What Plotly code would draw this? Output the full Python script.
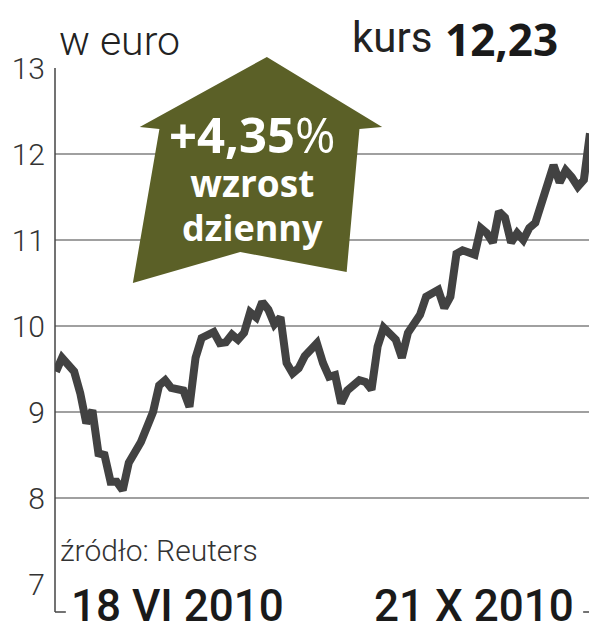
import plotly.graph_objects as go

# ---- data ----
day_index = [0, 1, 3, 4, 5, 6, 7, 8, 9, 10, 11, 12, 14, 15, 16, 17, 18, 19, 21, 22,
             23, 24, 25, 26, 27, 28, 29, 30, 31, 32, 33, 34, 35, 36, 37, 38, 39, 40, 41, 43,
             44, 45, 46, 47, 48, 50, 51, 52, 53, 54, 56, 57, 58, 60, 61, 63, 64, 65, 66, 67,
             69, 70, 71, 72, 73, 74, 75, 76, 77, 78, 79, 81, 82, 83, 84, 85, 86, 87, 88]
price = [9.47, 9.63, 9.47, 9.22, 8.87, 9.02, 8.52, 8.50, 8.19, 8.19, 8.09, 8.41, 8.65, 8.81, 9.00, 9.31, 9.37, 9.28, 9.25, 9.06,
         9.63, 9.86, 9.90, 9.93, 9.80, 9.81, 9.90, 9.84, 9.92, 10.16, 10.10, 10.28, 10.19, 10.02, 10.10, 9.57, 9.45, 9.51, 9.65, 9.80,
         9.57, 9.41, 9.43, 9.10, 9.25, 9.37, 9.35, 9.26, 9.76, 9.98, 9.84, 9.63, 9.92, 10.13, 10.34, 10.42, 10.21, 10.34, 10.84, 10.88,
         10.83, 11.14, 11.08, 10.97, 11.33, 11.26, 10.97, 11.08, 11.00, 11.14, 11.20, 11.66, 11.87, 11.67, 11.81, 11.73, 11.62, 11.70, 12.24]
y_ticks = [7, 8, 9, 10, 11, 12, 13]
date_labels = ["18 VI 2010", "21 X 2010"]
unit_label = "w euro"
rate_label = "kurs"
rate_value = "12,23"
change_label = "+4,35"
change_text = ["wzrost", "dzienny"]
source_label = "źródło: Reuters"

# page body has an 8px margin; figure sized so that page pixels match the reference
OFF = 8
W, H = 597 - OFF, 640 - OFF
L, R, T, B = 47, 593, 68, 584   # plot area in page pixels


def px(x):
    return (x - L) / (R - L)


def py(y):
    return (B - y) / (B - T)


fig = go.Figure()
fig.add_trace(go.Scatter(
    x=day_index, y=price, mode="lines",
    line=dict(color="#424242", width=8),
    hoverinfo="skip", showlegend=False, cliponaxis=False,
))

# arrow polygon (page pixels -> paper)
arrow_pts = [(262, 57), (379, 127), (356, 129), (343, 272), (235, 252), (126, 283), (153, 129), (133, 127)]
path = "M " + " L ".join(f"{px(a):.4f},{py(b):.4f}" for a, b in arrow_pts) + " Z"

shapes = [
    dict(type="path", xref="paper", yref="paper", path=path,
         fillcolor="#5b6027", line=dict(width=0), layer="above"),
    # left bracket
    dict(type="line", xref="paper", yref="paper", x0=0, x1=0, y0=1, y1=py(612),
         line=dict(color="#444", width=1.5)),
    dict(type="line", xref="paper", yref="paper", x0=0, x1=px(58), y0=py(612), y1=py(612),
         line=dict(color="#444", width=1.5)),
    # right bracket
    dict(type="line", xref="paper", yref="paper", x0=1, x1=1, y0=0, y1=py(612),
         line=dict(color="#444", width=1.5)),
    dict(type="line", xref="paper", yref="paper", x0=1, x1=px(583), y0=py(612), y1=py(612),
         line=dict(color="#444", width=1.5)),
]

arrow_text = ("<span style='font-size:49px'><b>" + change_label + "</b>%</span><br>"
              "<span style='font-size:37px'><b>" + change_text[0] + "</b></span><br>"
              "<span style='font-size:36px'><b>" + change_text[1] + "</b></span>")

annotations = [
    dict(text=unit_label, x=px(49), y=py(41), xanchor="left", yanchor="middle",
         font=dict(family="Roboto", size=41, color="#222", weight=300)),
    dict(text=rate_label, x=px(432), y=py(38), xanchor="right", yanchor="middle",
         font=dict(family="Roboto", size=42, color="#222")),
    dict(text=rate_value, x=px(441), y=py(39), xanchor="left", yanchor="middle",
         font=dict(family="Open Sans", size=44, color="#1a1a1a", weight=700)),
    dict(text=arrow_text, x=px(247), y=py(176), xanchor="center", yanchor="middle",
         align="center", font=dict(family="Open Sans", size=34, color="white")),
    dict(text=source_label, x=px(50), y=py(550), xanchor="left", yanchor="middle",
         font=dict(family="Roboto", size=30, color="#333", weight=300)),
    dict(text=date_labels[0], x=px(61), y=py(606), xanchor="left", yanchor="middle",
         font=dict(family="Roboto", size=44, color="#1a1a1a", weight=500)),
    dict(text=date_labels[1], x=px(576), y=py(606), xanchor="right", yanchor="middle",
         font=dict(family="Roboto", size=44, color="#1a1a1a", weight=500)),
]
for a in annotations:
    a.update(xref="paper", yref="paper", showarrow=False)

fig.update_layout(
    width=W, height=H,
    margin=dict(l=L - OFF, r=597 - R, t=T - OFF, b=640 - B),
    paper_bgcolor="white", plot_bgcolor="white",
    shapes=shapes, annotations=annotations,
    xaxis=dict(range=[-0.16, 88.5], showgrid=False, zeroline=False,
               showticklabels=False, showline=False, fixedrange=True),
    yaxis=dict(range=[7, 13], tickvals=y_ticks, ticktext=[str(v) for v in y_ticks],
               showgrid=True, gridcolor="#a0a0a0", gridwidth=1.5, zeroline=False,
               showline=False, ticks="", ticklabelstandoff=9,
               tickfont=dict(family="Roboto", size=30, color="#333", weight=300)),
)

fig.write_html("out.html")
